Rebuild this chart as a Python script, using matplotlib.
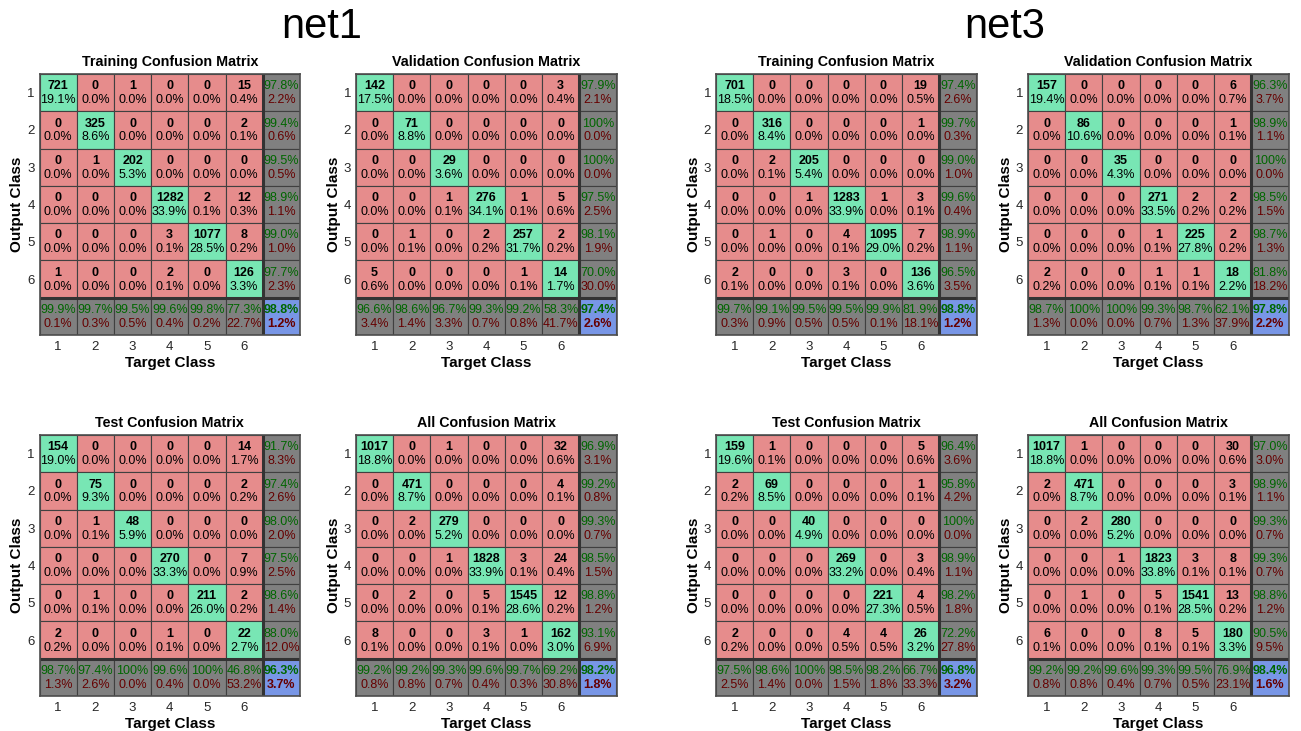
import numpy as np
import matplotlib
matplotlib.use("Agg")
import matplotlib.pyplot as plt
from matplotlib.patches import Rectangle

plt.rcParams['font.family'] = ['Liberation Sans', 'DejaVu Sans']

class_labels = ["1", "2", "3", "4", "5", "6"]
net_names = ["net1", "net3"]
set_titles = ["Training Confusion Matrix", "Validation Confusion Matrix",
              "Test Confusion Matrix", "All Confusion Matrix"]

# rows = output class, cols = target class
net1_training = [[721, 0, 1, 0, 0, 15],
                 [0, 325, 0, 0, 0, 2],
                 [0, 1, 202, 0, 0, 0],
                 [0, 0, 0, 1282, 2, 12],
                 [0, 0, 0, 3, 1077, 8],
                 [1, 0, 0, 2, 0, 126]]
net1_validation = [[142, 0, 0, 0, 0, 3],
                   [0, 71, 0, 0, 0, 0],
                   [0, 0, 29, 0, 0, 0],
                   [0, 0, 1, 276, 1, 5],
                   [0, 1, 0, 2, 257, 2],
                   [5, 0, 0, 0, 1, 14]]
net1_test = [[154, 0, 0, 0, 0, 14],
             [0, 75, 0, 0, 0, 2],
             [0, 1, 48, 0, 0, 0],
             [0, 0, 0, 270, 0, 7],
             [0, 1, 0, 0, 211, 2],
             [2, 0, 0, 1, 0, 22]]
net1_all = [[1017, 0, 1, 0, 0, 32],
            [0, 471, 0, 0, 0, 4],
            [0, 2, 279, 0, 0, 0],
            [0, 0, 1, 1828, 3, 24],
            [0, 2, 0, 5, 1545, 12],
            [8, 0, 0, 3, 1, 162]]
net3_training = [[701, 0, 0, 0, 0, 19],
                 [0, 316, 0, 0, 0, 1],
                 [0, 2, 205, 0, 0, 0],
                 [0, 0, 1, 1283, 1, 3],
                 [0, 1, 0, 4, 1095, 7],
                 [2, 0, 0, 3, 0, 136]]
net3_validation = [[157, 0, 0, 0, 0, 6],
                   [0, 86, 0, 0, 0, 1],
                   [0, 0, 35, 0, 0, 0],
                   [0, 0, 0, 271, 2, 2],
                   [0, 0, 0, 1, 225, 2],
                   [2, 0, 0, 1, 1, 18]]
net3_test = [[159, 1, 0, 0, 0, 5],
             [2, 69, 0, 0, 0, 1],
             [0, 0, 40, 0, 0, 0],
             [0, 0, 0, 269, 0, 3],
             [0, 0, 0, 0, 221, 4],
             [2, 0, 0, 4, 4, 26]]
net3_all = [[1017, 1, 0, 0, 0, 30],
            [2, 471, 0, 0, 0, 3],
            [0, 2, 280, 0, 0, 0],
            [0, 0, 1, 1823, 3, 8],
            [0, 1, 0, 5, 1541, 13],
            [6, 0, 0, 8, 5, 180]]

matrices = {
    "net1": [net1_training, net1_validation, net1_test, net1_all],
    "net3": [net3_training, net3_validation, net3_test, net3_all],
}

GREEN = (120/255, 230/255, 180/255)
RED = (230/255, 140/255, 140/255)
GREY = (0.5, 0.5, 0.5)
BLUE = (120/255, 150/255, 230/255)
TXT_G = (0.0, 0.4, 0.0)
TXT_R = (0.4, 0.0, 0.0)
EDGE = (0.25, 0.25, 0.25)

W, H = 1301, 731
fig = plt.figure(figsize=(W/100, H/100), dpi=100)
fig.patch.set_facecolor('white')


def fmt(p):
    return "100%" if round(p, 1) >= 100 else f"{p:.1f}%"


def draw_cm(ax, cm, title):
    cm = np.array(cm, dtype=float)
    n = cm.shape[0]
    total = cm.sum()
    ax.set_xlim(0, n + 1)
    ax.set_ylim(n + 1, 0)
    for r in range(n):
        for c in range(n):
            ax.add_patch(Rectangle((c, r), 1, 1, facecolor=GREEN if r == c else RED,
                                   edgecolor=EDGE, lw=0.8))
            ax.text(c + 0.5, r + 0.33, f"{int(cm[r, c])}", ha='center', va='center',
                    fontsize=9, fontweight='bold', color='black')
            ax.text(c + 0.5, r + 0.70, fmt(100 * cm[r, c] / total), ha='center',
                    va='center', fontsize=9, color='black')
        rs = cm[r].sum()
        p = 100 * cm[r, r] / rs if rs else 0
        ax.add_patch(Rectangle((n, r), 1, 1, facecolor=GREY, edgecolor=EDGE, lw=0.8))
        ax.text(n + 0.5, r + 0.33, fmt(p), ha='center', va='center', fontsize=9, color=TXT_G)
        ax.text(n + 0.5, r + 0.70, fmt(100 - p), ha='center', va='center', fontsize=9, color=TXT_R)
    for c in range(n):
        cs = cm[:, c].sum()
        p = 100 * cm[c, c] / cs if cs else 0
        ax.add_patch(Rectangle((c, n), 1, 1, facecolor=GREY, edgecolor=EDGE, lw=0.8))
        ax.text(c + 0.5, n + 0.33, fmt(p), ha='center', va='center', fontsize=9, color=TXT_G)
        ax.text(c + 0.5, n + 0.70, fmt(100 - p), ha='center', va='center', fontsize=9, color=TXT_R)
    acc = 100 * np.trace(cm) / total
    ax.add_patch(Rectangle((n, n), 1, 1, facecolor=BLUE, edgecolor=EDGE, lw=0.8))
    ax.text(n + 0.5, n + 0.33, fmt(acc), ha='center', va='center', fontsize=9,
            fontweight='bold', color=TXT_G)
    ax.text(n + 0.5, n + 0.70, fmt(100 - acc), ha='center', va='center', fontsize=9,
            fontweight='bold', color=TXT_R)
    # thicker separators
    ax.plot([n, n], [0, n + 1], color=(0.2, 0.2, 0.2), lw=2.2)
    ax.plot([0, n + 1], [n, n], color=(0.2, 0.2, 0.2), lw=2.2)
    for s in ax.spines.values():
        s.set_color((0.3, 0.3, 0.3))
        s.set_linewidth(1.2)
    ax.set_xticks(np.arange(n) + 0.5)
    ax.set_xticklabels(class_labels)
    ax.set_yticks(np.arange(n) + 0.5)
    ax.set_yticklabels(class_labels)
    ax.tick_params(length=0, labelsize=9.5, pad=3.5, colors=(0.15, 0.15, 0.15))
    ax.tick_params(axis='x', pad=4.5)
    ax.set_title(title, fontsize=10.3, fontweight='bold', pad=5.5)
    ax.set_xlabel("Target Class", fontsize=11, fontweight='bold', labelpad=2)
    ax.set_ylabel("Output Class", fontsize=11, fontweight='bold', labelpad=2)


lefts = {"net1": [39.5, 356.0], "net3": [716.0, 1028.0]}
tops = [74.0, 435.0]
cw, ch = 260.5, 261.0

for net in net_names:
    for k, (cm, title) in enumerate(zip(matrices[net], set_titles)):
        row, col = divmod(k, 2)
        l = lefts[net][col]
        t = tops[row]
        ax = fig.add_axes([l / W, 1 - (t + ch) / H, cw / W, ch / H])
        draw_cm(ax, cm, title)

fig.text(322 / W, 1 - 27 / H, "net1", ha='center', va='center', fontsize=30)
fig.text(1005 / W, 1 - 27 / H, "net3", ha='center', va='center', fontsize=30)

fig.savefig("out.png", dpi=100)
